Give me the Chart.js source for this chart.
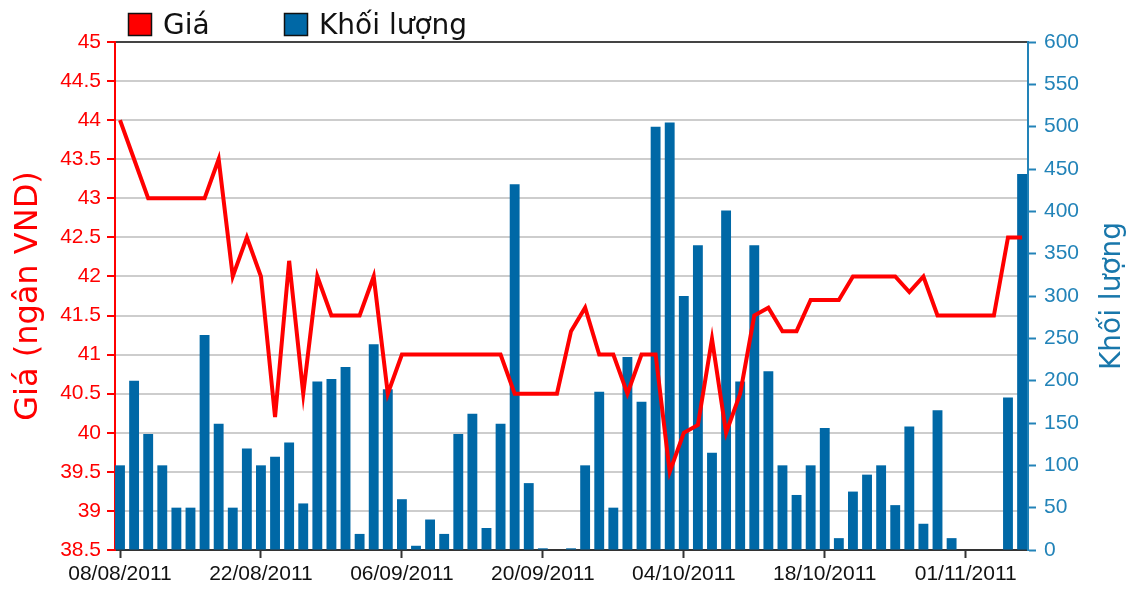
<!DOCTYPE html>
<html>
<head>
<meta charset="utf-8">
<script src="https://cdn.jsdelivr.net/npm/chart.js@4/dist/chart.umd.min.js"></script>
<style>
html,body{margin:0;padding:0;background:#fff;}
canvas{display:block;}
</style>
</head>
<body>
<canvas id="c" width="1136" height="593"></canvas>
<script>
// Trading days
const dates = [
 "08/08/2011","09/08/2011","10/08/2011","11/08/2011","12/08/2011",
 "15/08/2011","16/08/2011","17/08/2011","18/08/2011","19/08/2011",
 "22/08/2011","23/08/2011","24/08/2011","25/08/2011","26/08/2011",
 "29/08/2011","30/08/2011","31/08/2011","01/09/2011","05/09/2011",
 "06/09/2011","07/09/2011","08/09/2011","09/09/2011","12/09/2011",
 "13/09/2011","14/09/2011","15/09/2011","16/09/2011","19/09/2011",
 "20/09/2011","21/09/2011","22/09/2011","23/09/2011","26/09/2011",
 "27/09/2011","28/09/2011","29/09/2011","30/09/2011","03/10/2011",
 "04/10/2011","05/10/2011","06/10/2011","07/10/2011","10/10/2011",
 "11/10/2011","12/10/2011","13/10/2011","14/10/2011","17/10/2011",
 "18/10/2011","19/10/2011","20/10/2011","21/10/2011","24/10/2011",
 "25/10/2011","26/10/2011","27/10/2011","28/10/2011","31/10/2011",
 "01/11/2011","02/11/2011","03/11/2011","04/11/2011","07/11/2011"
];
// Price (thousand VND)
const price = [
 44,43.5,43,43,43,43,43,43.5,42,42.5,
 42,40.2,42.2,40.5,42,41.5,41.5,41.5,42,40.5,
 41,41,41,41,41,41,41,41,40.5,40.5,
 40.5,40.5,41.3,41.6,41,41,40.5,41,41,39.5,
 40,40.1,41.2,40,40.5,41.5,41.6,41.3,41.3,41.7,
 41.7,41.7,42,42,42,42,41.8,42,41.5,41.5,
 41.5,41.5,41.5,42.5,42.5
];
// Volume
const volume = [
 100,200,137,100,50,50,254,149,50,120,
 100,110,127,55,199,202,216,19,243,190,
 60,5,36,19,137,161,26,149,432,79,
 2,0,2,100,187,50,228,175,500,505,
 300,360,115,401,199,360,211,100,65,100,
 144,14,69,89,100,53,146,31,165,14,
 0,0,0,180,444
];
const seriesNames = ["Giá","Khối lượng"];
const axisTitles = ["Giá (ngân VND)","Khối lượng"];

const RED = '#ff0000';
const BAR = '#0068a6';
const BLUE = '#2283b8';
const TICKFONT = {family:'"Liberation Sans", Arial, sans-serif', size:21};

const extras = {
  id:'extras',
  afterDraw(chart){
    const ctx = chart.ctx;
    ctx.save();
    // legend
    ctx.font = '28px "DejaVu Sans", sans-serif';
    ctx.textBaseline = 'alphabetic';
    ctx.textAlign = 'left';
    ctx.lineWidth = 1.5;
    ctx.strokeStyle = '#111';
    ctx.fillStyle = RED;
    ctx.fillRect(128,13,24,23);
    ctx.strokeRect(128.5,13.5,23,22);
    ctx.fillStyle = '#111';
    ctx.fillText(seriesNames[0],163,34);
    ctx.fillStyle = BAR;
    ctx.fillRect(284,13,24,23);
    ctx.strokeRect(284.5,13.5,23,22);
    ctx.fillStyle = '#111';
    ctx.fillText(seriesNames[1],319,34);
    // axis titles
    const cy = (chart.chartArea.top + chart.chartArea.bottom)/2;
    ctx.textAlign = 'center';
    ctx.font = '32px "DejaVu Sans", sans-serif';
    ctx.fillStyle = RED;
    ctx.save();
    ctx.translate(37,cy);
    ctx.rotate(-Math.PI/2);
    ctx.fillText(axisTitles[0],0,0);
    ctx.restore();
    ctx.font = '28px "DejaVu Sans", sans-serif';
    ctx.fillStyle = '#1877ab';
    ctx.save();
    ctx.translate(1120,cy);
    ctx.rotate(-Math.PI/2);
    ctx.fillText(axisTitles[1],0,0);
    ctx.restore();
    ctx.restore();
  }
};

new Chart(document.getElementById('c'), {
  data: {
    datasets: [
      {
        type:'line', label:seriesNames[0], yAxisID:'y', order:0,
        data: price.map((v,i)=>({x:i,y:v})),
        borderColor:RED, borderWidth:4, pointRadius:0, tension:0,
        borderJoinStyle:'miter', fill:false
      },
      {
        type:'bar', label:seriesNames[1], yAxisID:'y1', order:1,
        data: volume.map((v,i)=>({x:i,y:v})),
        backgroundColor:BAR, borderWidth:0,
        categoryPercentage:1, barPercentage:0.7
      }
    ]
  },
  options: {
    responsive:false, animation:false,
    layout:{padding:{top:42,left:0,right:0,bottom:0}},
    plugins:{legend:{display:false}, tooltip:{enabled:false}},
    scales:{
      x:{
        type:'linear', min:-0.355, max:64.42, offset:false,
        afterFit(s){ s.height = 43; },
        grid:{offset:false, drawOnChartArea:false, drawTicks:true, tickLength:8, tickColor:'#333', tickWidth:2},
        border:{color:'#333', width:2},
        ticks:{
          stepSize:10, includeBounds:false, autoSkip:false, maxRotation:0,
          padding:4, color:'#111', font:TICKFONT,
          callback:(v)=> (Number.isInteger(v) && v%10===0 && dates[v]) ? dates[v] : null
        }
      },
      y:{
        type:'linear', position:'left', min:38.5, max:45,
        afterFit(s){ s.width = 115; },
        grid:{
          color:(c)=> (c.tick && c.tick.value===45) ? '#444' : '#cdcdcd',
          lineWidth:2, tickColor:RED, tickLength:8, tickWidth:2
        },
        border:{color:RED, width:2},
        ticks:{stepSize:0.5, color:RED, font:TICKFONT, padding:6,
          callback:(v)=> String(Math.round(v*10)/10)}
      },
      y1:{
        type:'linear', position:'right', min:0, max:600,
        afterFit(s){ s.width = 108; },
        grid:{drawOnChartArea:false, tickColor:BLUE, tickLength:8, tickWidth:2},
        border:{color:BLUE, width:2},
        ticks:{stepSize:50, color:BLUE, font:TICKFONT, padding:8}
      }
    }
  },
  plugins:[extras]
});
</script>
</body>
</html>
